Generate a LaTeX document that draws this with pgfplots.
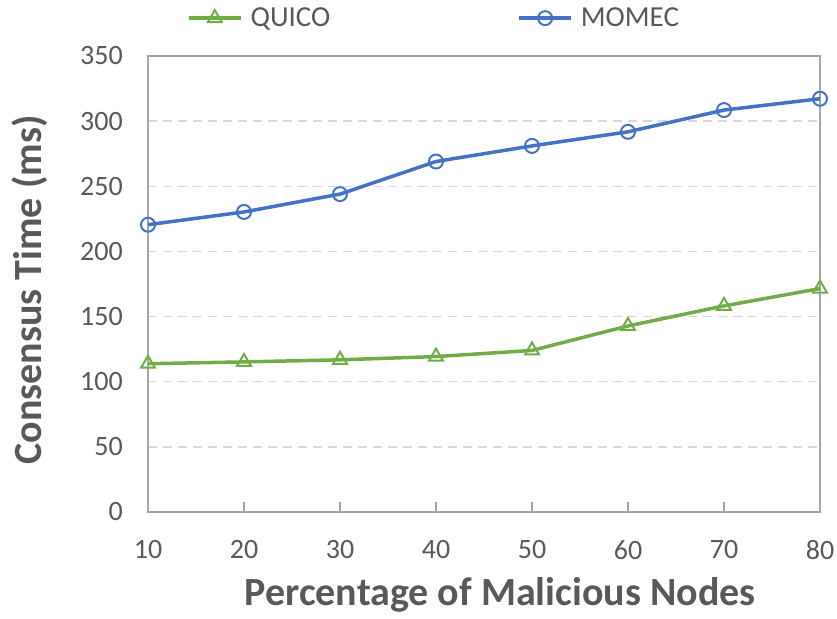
\documentclass[border=0pt]{standalone}
\usepackage{fontspec}
\setmainfont{Carlito}
\usepackage{pgfplots}
\pgfplotsset{compat=1.18}
\definecolor{qgreen}{HTML}{70AD47}
\definecolor{mblue}{HTML}{4472C4}
\definecolor{txtgray}{HTML}{595959}
\definecolor{gridgray}{HTML}{D9D9D9}
\definecolor{axgray}{HTML}{A6A6A6}
\begin{document}
\begin{tikzpicture}
\useasboundingbox (-148pt,-106pt) rectangle (689pt,512pt);
\begin{axis}[
  at={(0pt,0pt)}, anchor=south west,
  scale only axis, width=672pt, height=456pt,
  xmin=10, xmax=80, ymin=0, ymax=350,
  xtick={10,20,...,80}, ytick={0,50,...,350},
  clip=false,
  axis line style={axgray, line width=1.2pt},
  ymajorgrids, grid style={gridgray, line width=1.5pt, dash pattern=on 9pt off 6pt},
  tick align=inside, xtick pos=bottom, ytick pos=left,
  major tick length=10pt,
  xtick style={axgray, line width=1.2pt},
  ytick style={draw=none},
  /pgf/number format/assume math mode=true,
  ticklabel style={font=\fontsize{28}{32}\selectfont, text=txtgray, inner sep=0pt},
  xticklabel style={anchor=center, yshift=-38pt},
  yticklabel style={anchor=east, xshift=-25pt},
  xlabel={Percentage of Malicious Nodes},
  ylabel={Consensus Time (ms)},
  every axis x label/.style={at={(axis description cs:0.524,0)}, anchor=center, yshift=-83pt,
    font=\bfseries\fontsize{40}{46}\selectfont, text=txtgray},
  every axis y label/.style={at={(axis description cs:0,0.487)}, rotate=90, anchor=center, yshift=118pt,
    font=\bfseries\fontsize{40}{46}\selectfont, text=txtgray},
  legend columns=2,
  legend style={at={(axis description cs:0.4256,1.083)}, anchor=center, draw=none, fill=none,
    font=\fontsize{29}{33}\selectfont, text=txtgray,
    /tikz/every odd column/.append style={column sep=6pt},
    /tikz/every even column/.append style={column sep=185pt}},
  legend image code/.code={\draw[mark repeat=2,mark phase=2,#1] plot coordinates {(0pt,0pt) (26pt,0pt) (52pt,0pt)};},
]
\addplot[qgreen, line width=3.5pt, mark=triangle, mark size=8pt,
  mark options={solid, fill=white, line width=2pt}]
  coordinates {(10,113.8) (20,115.2) (30,116.8) (40,119.3) (50,124) (60,142.8) (70,158.2) (80,171.5)};
\addlegendentry{QUICO}
\addplot[mblue, line width=3.5pt, mark=o, mark size=7pt,
  mark options={solid, fill=white, line width=2pt}]
  coordinates {(10,220.5) (20,230.3) (30,244) (40,269) (50,281) (60,291.8) (70,308.5) (80,317.2)};
\addlegendentry{MOMEC}
\end{axis}
\end{tikzpicture}
\end{document}
